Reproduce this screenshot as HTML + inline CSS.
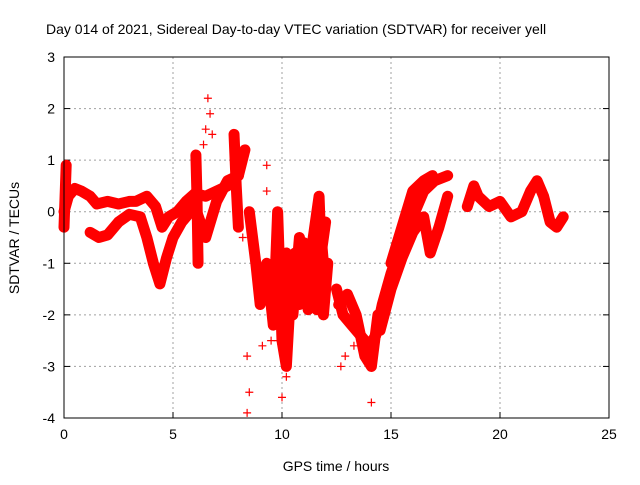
<!DOCTYPE html>
<html><head><meta charset="utf-8"><style>
body{margin:0;background:#fff;overflow:hidden;width:640px;height:480px}
svg text{font-family:"Liberation Sans",sans-serif;fill:#000}
</style></head><body>
<svg id="c" width="640" height="480" xmlns="http://www.w3.org/2000/svg"></svg>
<script>
const xTicks=[0,5,10,15,20,25];
const yTicks=[3,2,1,0,-1,-2,-3,-4];
const trackA=[[0,0.0],[0.2,0.3],[0.5,0.45],[0.8,0.4],[1.2,0.3],[1.5,0.15],[2,0.2],[2.5,0.15],[3,0.2],[3.3,0.2],[3.8,0.3],[4.2,0.1],[4.5,-0.3],[4.8,-0.1],[5.2,0.0],[5.6,0.2],[6,0.35],[6.5,0.3],[7,0.4],[7.5,0.5],[8,0.7],[8.3,1.2]];
const trackB=[[1.2,-0.4],[1.6,-0.5],[2,-0.45],[2.5,-0.2],[3,-0.05],[3.5,-0.1],[3.8,-0.5],[4.1,-1.0],[4.4,-1.4],[4.7,-0.9],[5,-0.5],[5.4,-0.2],[6,0.1],[6.5,-0.5],[7,0.2],[7.5,0.6],[8,0.7]];
const spike1=[[6.05,1.1],[6.1,0.3],[6.15,-1.0]];
const spike2=[[7.8,1.5],[7.9,0.5],[8.0,-0.3]];
const spike3=[[0.1,0.9],[0.05,0.3],[0.0,-0.3]];
const trackC=[[8.5,0],[8.8,-1.0],[9,-1.8],[9.3,-1.0],[9.6,-2.2],[9.8,0],[10,-2.5],[10.2,-3.0],[10.4,-1.5],[10.6,-0.8],[10.8,-1.8],[11,-1.0],[11.2,-0.8],[11.4,-1.6],[11.6,-0.2],[11.8,-0.5],[12,-1.5]];
const trackD=[[9.9,-1.5],[10.2,-0.8],[10.5,-2.0],[10.8,-0.5],[11.1,-1.5],[11.4,-0.6],[11.7,0.3],[11.9,-2.0],[12.1,-1.0]];
const trackH=[[10.0,-1.0],[10.3,-1.8],[10.6,-1.2],[10.9,-0.9],[11.2,-1.9],[11.5,-1.1],[11.8,-0.8],[12.0,-0.2]];
const trackI=[[10.1,-2.2],[10.4,-1.0],[10.7,-1.5],[11.0,-0.6],[11.3,-1.3],[11.6,-1.9],[11.9,-1.2]];
const trackE=[[12.5,-1.5],[12.8,-2.0],[13.2,-2.2],[13.6,-2.4],[14,-2.6],[14.3,-2.4],[14.6,-1.8],[15,-1.2],[15.5,-0.6],[16,-0.1],[16.5,0.4],[17,0.6],[17.6,0.7]];
const trackE3=[[12.6,-1.8],[13.0,-1.6],[13.4,-2.0],[13.8,-2.8],[14.1,-3.0],[14.4,-2.0]];
const trackF=[[14.5,-2.3],[15,-1.5],[15.5,-0.9],[16,-0.4],[16.5,-0.1],[16.8,-0.8],[17.2,-0.3],[17.6,0.3]];
const trackE2=[[15,-1.0],[15.5,-0.3],[16,0.4],[16.5,0.6],[16.9,0.7]];
const trackG=[[18.5,0.1],[18.8,0.5],[19,0.3],[19.5,0.1],[20,0.2],[20.5,-0.1],[21,0.0],[21.4,0.4],[21.7,0.6],[22,0.3],[22.3,-0.2],[22.6,-0.3],[22.9,-0.1]];
const outliers=[[6.6,2.2],[6.7,1.9],[6.5,1.6],[6.8,1.5],[6.4,1.3],[8.5,-3.5],[8.4,-3.9],[8.4,-2.8],[9.3,0.9],[9.3,0.4],[10,-3.6],[10.2,-3.2],[14.1,-3.7],[8.2,-0.5],[9.8,-2.5],[12.9,-2.8],[9.1,-2.6],[9.5,-2.5],[9.4,-1.6],[12.7,-3.0],[13.3,-2.6]];
const tracks=[trackA,trackB,spike1,spike2,spike3,trackC,trackD,trackH,trackI,trackE,trackE3,trackF,trackE2,trackG];

const NS="http://www.w3.org/2000/svg";
const svg=document.getElementById('c');
const X0=64,X1=609,Y0=57,Y1=418;
const px=t=>X0+t*(X1-X0)/25;
const py=v=>Y0+(3-v)*(Y1-Y0)/7;
function mk(tag,at){const e=document.createElementNS(NS,tag);for(const k in at)e.setAttribute(k,at[k]);svg.appendChild(e);return e;}
xTicks.forEach(t=>{
  if(t>0&&t<25){const g=mk('line',{x1:px(t),x2:px(t),y1:Y0,y2:Y1,stroke:'#a0a0a0','stroke-dasharray':'2,3'});
  
  }
  const l=mk('text',{x:px(t),y:Y1+21,'text-anchor':'middle','font-size':14});l.textContent=t;
  
  
  mk('line',{x1:px(t),x2:px(t),y1:Y1,y2:Y1-6,stroke:'#000'});
});
yTicks.forEach(v=>{
  if(v<3&&v>-4){const g=mk('line',{x1:X0,x2:X1,y1:py(v),y2:py(v),stroke:'#a0a0a0','stroke-dasharray':'2,3'});
  
  }
  const l=mk('text',{x:X0-9,y:py(v)+5,'text-anchor':'end','font-size':14});l.textContent=v;
  
  
  mk('line',{x1:X0,x2:X0+6,y1:py(v),y2:py(v),stroke:'#000'});
  mk('line',{x1:X1,x2:X1-6,y1:py(v),y2:py(v),stroke:'#000'});
});
tracks.forEach(tr=>{
  const p=mk('polyline',{points:tr.map(d=>px(d[0])+','+py(d[1])).join(' '),fill:'none',stroke:'#f00','stroke-width':11,'stroke-linejoin':'round','stroke-linecap':'round'});
  
  
  tr.forEach(d=>plus(d));
});
function plus(d){
  const x=px(d[0]),y=py(d[1]);
  const m=mk('path',{d:`M${x-4},${y}h8M${x},${y-4}v8`,stroke:'#f00','stroke-width':1.2});
  
  
}
outliers.forEach(plus);
const fr=mk('rect',{x:X0,y:Y0,width:X1-X0,height:Y1-Y0,fill:'none',stroke:'#000'});


const ti=mk('text',{x:46,y:34,'font-size':14});ti.textContent='Day 014 of 2021, Sidereal Day-to-day VTEC variation (SDTVAR) for receiver yell';


const xt=mk('text',{x:336,y:471,'text-anchor':'middle','font-size':14});xt.textContent='GPS time / hours';


const yt=mk('text',{x:0,y:0,'text-anchor':'middle','font-size':14,transform:'translate(19,238) rotate(-90)'});yt.textContent='SDTVAR / TECUs';


</script>
</body></html>
